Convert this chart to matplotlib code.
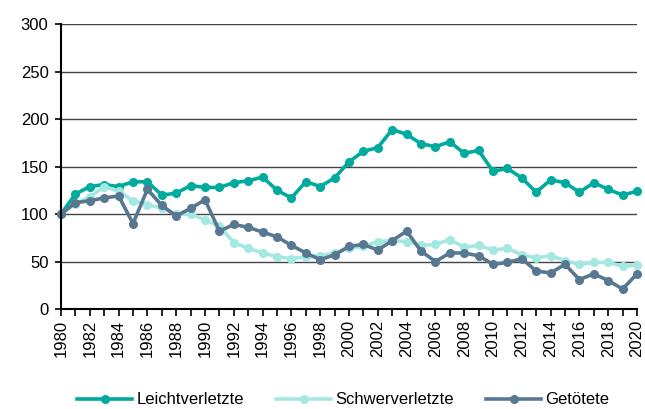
import matplotlib
matplotlib.use("Agg")
import matplotlib.pyplot as plt

# Daten
years = list(range(1980, 2021))
leichtverletzte = [100, 121, 129, 131, 129, 134, 134, 120, 122, 130, 128, 128, 133, 135,
                   139, 125, 117, 134, 129, 138, 155, 166, 170, 189, 184, 174, 171, 176,
                   164, 167, 145, 148, 138, 123, 136, 133, 123, 133, 126, 120, 124]
schwerverletzte = [100, 111, 118, 129, 124, 114, 110, 106, 100, 100, 94, 87, 70, 64,
                   59, 55, 53, 55, 56, 59, 64, 66, 71, 72, 71, 67, 68, 73,
                   65, 67, 62, 64, 57, 54, 56, 51, 47, 49, 49, 45, 46]
getoetete = [100, 112, 114, 117, 119, 90, 126, 109, 98, 106, 115, 82, 89, 86,
             81, 76, 67, 59, 52, 57, 66, 68, 62, 72, 82, 61, 50, 59,
             59, 56, 47, 49, 53, 40, 38, 47, 31, 37, 30, 21, 37]

series_names = ["Leichtverletzte", "Schwerverletzte", "Getötete"]
series_colors = ["#00ab9e", "#a3e9e1", "#587891"]

plt.rcParams["font.family"] = ["Liberation Sans", "DejaVu Sans"]

fig = plt.figure(figsize=(6.45, 4.09), dpi=100)
ax = fig.add_axes([0.0946, 0.2445, 0.893, 0.6965])

for vals, name, col in zip([leichtverletzte, schwerverletzte, getoetete], series_names, series_colors):
    ax.plot(years, vals, color=col, lw=2.6, marker="o", ms=5.5, label=name, clip_on=False)

ax.set_xlim(1980, 2020)
ax.set_ylim(0, 300)
ax.set_yticks(range(0, 301, 50))
ax.set_xticks(years)
ax.set_xticklabels([str(y) if y % 2 == 0 else "" for y in years], rotation=90)
ax.tick_params(axis="x", length=5, width=1.2, labelsize=12, pad=3)
ax.tick_params(axis="y", length=4, width=1.2, labelsize=12, pad=5)

ax.grid(axis="y", color="#444444", lw=1)
ax.set_axisbelow(True)
for side in ["top", "right"]:
    ax.spines[side].set_visible(False)
ax.spines["left"].set_linewidth(1.5)
ax.spines["bottom"].set_linewidth(1.5)

# Legende unten
fig.legend(loc="center left", bbox_to_anchor=(77 / 645, 1 - 400 / 409), ncol=3, frameon=False,
           fontsize=12, handlelength=3.3, columnspacing=1.95, handletextpad=0.25,
           borderpad=0, borderaxespad=0)

fig.savefig("out.png", dpi=100)
